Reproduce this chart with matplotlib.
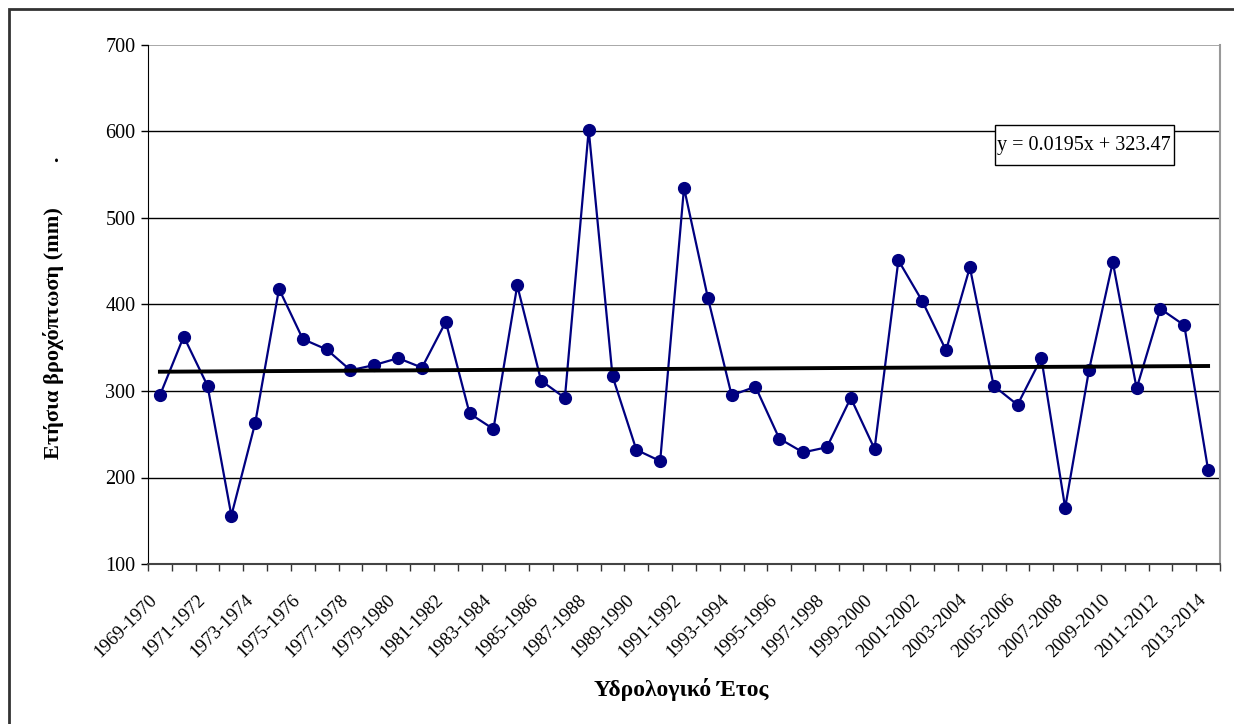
import matplotlib.pyplot as plt
from matplotlib.patches import Rectangle
from matplotlib.transforms import ScaledTranslation

plt.rcParams['font.family'] = ['Liberation Serif', 'DejaVu Serif']

# hydrological years 1969-1970 ... 2013-2014
years = [f"{y}-{y + 1}" for y in range(1969, 2014)]
rain_mm = [295, 363, 306, 156, 263, 418, 360, 348, 324, 330, 338, 327, 380, 274, 256,
           422, 312, 292, 602, 317, 232, 219, 535, 408, 295, 305, 245, 229, 235, 292,
           233, 451, 404, 347, 443, 306, 284, 338, 165, 324, 449, 303, 395, 376, 209]
trend_ends = [322.3, 328.9]   # linear trend read at first / last year
trend_label = 'y = 0.0195x + 323.47'
y_ticks = [100, 200, 300, 400, 500, 600, 700]

fig = plt.figure(figsize=(12.34, 7.24), dpi=100)
ax = fig.add_axes([148 / 1234, 1 - 564 / 724, (1220 - 148) / 1234, (564 - 45) / 724])

x = list(range(len(years)))
ax.plot(x, rain_mm, color='#000080', lw=1.6, marker='o', ms=8.5, zorder=3)
ax.plot([x[0], x[-1]], trend_ends, color='black', lw=2.8, zorder=4)

ax.set_xlim(-0.5, len(years) - 0.5)
ax.set_ylim(100, 700)
ax.set_yticks(y_ticks)
ax.tick_params(axis='y', labelsize=14.5, length=5, width=1, direction='out', pad=4, colors='black')
for yt in y_ticks[1:-1]:
    ax.axhline(yt, color='black', lw=1, zorder=1)
ax.axhline(700, color='#999999', lw=1.2, zorder=1)

ax.set_xticks(x[::2])
ax.set_xticklabels(years[::2], rotation=45, ha='right', va='top', rotation_mode='anchor', fontsize=13.5)
ax.tick_params(axis='x', which='major', length=0, pad=20)
ax.set_xticks([i - 0.5 for i in range(len(years) + 1)], minor=True)
ax.tick_params(axis='x', which='minor', length=5, width=1, color='#333333')
shift = ScaledTranslation(-11 / 100, 0, fig.dpi_scale_trans)
for lbl in ax.get_xticklabels():
    lbl.set_transform(lbl.get_transform() + shift)

ax.spines['left'].set_color('black')
ax.spines['bottom'].set_color('#444444')
ax.spines['bottom'].set_linewidth(1.5)
ax.spines['right'].set_color('#999999')
ax.spines['right'].set_linewidth(1.5)
ax.spines['top'].set_visible(False)

ax.set_ylabel('Ετήσια βροχόπτωση (mm)        .', fontsize=16, fontweight='bold')
ax.yaxis.set_label_coords(-0.078, 0.493)
ax.set_xlabel('Υδρολογικό Έτος', fontsize=17, fontweight='bold')
ax.xaxis.set_label_coords(0.497, -0.22)

ax.add_patch(Rectangle((0.790, 0.769), 0.167, 0.077, transform=ax.transAxes,
                       fc='white', ec='black', lw=1, zorder=5))
ax.text(0.873, 0.806, trend_label, transform=ax.transAxes, fontsize=14.5,
        ha='center', va='center', zorder=6)

fig.patches.append(Rectangle((9 / 1234, -0.05), 1.1, 1 - 9 / 724 + 0.05, transform=fig.transFigure,
                             fill=False, ec='#333333', lw=2))

fig.savefig('out.png', dpi=100)
